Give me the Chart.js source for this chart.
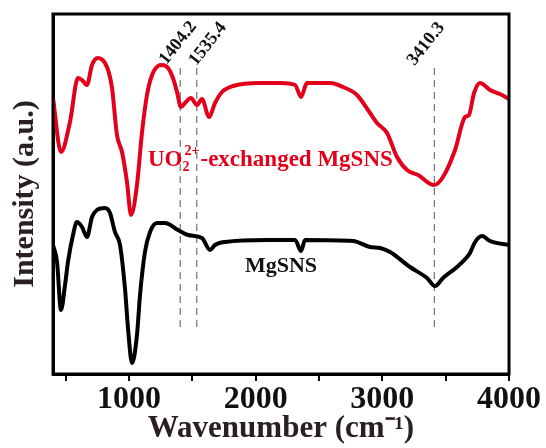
<!DOCTYPE html>
<html>
<head>
<meta charset="utf-8">
<script src="https://cdn.jsdelivr.net/npm/chart.js@4.4.1/dist/chart.umd.min.js"></script>
<style>
    html, body { margin: 0; padding: 0; background: #fff; }
    #wrap { width: 546px; height: 448px; }
</style>
</head>
<body>
<div id="wrap"><canvas id="ftirChart" width="546" height="448"></canvas></div>
<script>
// UO2(2+)-exchanged MgSNS spectrum (wavenumber / relative intensity)
const redX = [400, 463, 534, 597, 629, 668, 708, 755, 826, 866,
    905, 945, 984, 1016, 1063, 1103, 1142, 1182, 1229, 1260,
    1308, 1347, 1379, 1410, 1442, 1489, 1537, 1576, 1632, 1679,
    1734, 1821, 2034, 2192, 2311, 2358, 2405, 2587, 2690, 2800,
    2903, 2958, 3037, 3116, 3195, 3282, 3408, 3479, 3574, 3653,
    3684, 3724, 3771, 3850, 3929, 4000];
const redY = [276, 222, 252, 296, 294, 289, 309, 316, 307, 286,
    239, 222, 192, 159, 189, 242, 279, 299, 308, 309,
    306, 296, 282, 267, 271, 276, 269, 275, 257, 271,
    282, 288, 291, 291, 289, 277, 291, 291, 287, 279,
    261, 251, 241, 217, 204, 199, 189, 197, 224, 257,
    259, 281, 291, 284, 280, 275];

// MgSNS spectrum
const blackX = [400, 432, 463, 495, 518, 558, 589, 629, 668, 708,
    747, 810, 850, 889, 929, 968, 992, 1024, 1063, 1087,
    1126, 1166, 1221, 1284, 1387, 1466, 1576, 1640, 1679, 1758,
    2090, 2311, 2358, 2390, 2769, 2903, 2982, 3061, 3218, 3353,
    3416, 3479, 3590, 3669, 3692, 3732, 3787, 3850, 4000];
const blackY = [129, 112, 64, 89, 112, 139, 152, 147, 137, 157,
    164, 166, 161, 142, 129, 86, 46, 11, 39, 79,
    122, 142, 151, 151, 144, 139, 136, 124, 129, 132,
    134, 134, 123, 134, 133, 127, 126, 122, 107, 96,
    88, 96, 107, 117, 121, 132, 138, 133, 129];

// marked peaks
const peakPositions = [1404.2, 1535.4, 3410.3];
const peakLabels = ['1404.2', '1535.4', '3410.3'];
const peakLabelX = [1387, 1623, 3345];
const peakLabelY = [331, 330, 330];
const dashTop = 307;
const dashBottom = 47;

const xTickValues = [500, 1000, 1500, 2000, 2500, 3000, 3500, 4000];

const SERIF = "'Liberation Serif', 'Times New Roman', serif";
const RED = '#e3001b';

function toPoints(xs, ys) {
    return xs.map((v, i) => ({ x: v, y: ys[i] }));
}

const dashSets = peakPositions.map(p => ({
    data: [{ x: p, y: dashBottom }, { x: p, y: dashTop }],
    borderColor: '#555',
    borderWidth: 1,
    borderDash: [7, 5],
    pointRadius: 0,
    order: 3
}));

// frame and text annotations
const annotatePlugin = {
    id: 'annotate',
    afterDatasetsDraw(chart) {
        const { ctx, chartArea: a, scales: { x, y } } = chart;
        ctx.save();
        ctx.strokeStyle = '#000';
        ctx.lineWidth = 3;
        ctx.strokeRect(a.left, a.top, a.right - a.left, a.bottom - a.top);

        // rotated peak labels
        ctx.fillStyle = '#111';
        ctx.font = 'bold 18px ' + SERIF;
        ctx.textAlign = 'center';
        ctx.textBaseline = 'middle';
        peakLabels.forEach((t, i) => {
            ctx.save();
            ctx.translate(x.getPixelForValue(peakLabelX[i]), y.getPixelForValue(peakLabelY[i]));
            ctx.rotate(-52 * Math.PI / 180);
            ctx.fillText(t, 0, 0);
            ctx.restore();
        });

        // series labels
        ctx.textAlign = 'left';
        ctx.textBaseline = 'alphabetic';
        let px = x.getPixelForValue(1150);
        const py = y.getPixelForValue(208);
        ctx.fillStyle = RED;
        ctx.font = 'bold 23px ' + SERIF;
        ctx.fillText('UO', px, py);
        px += ctx.measureText('UO').width;
        ctx.font = 'bold 14px ' + SERIF;
        ctx.fillText('2', px, py + 5);
        ctx.fillText('2+', px + 2, py - 11);
        px += ctx.measureText('2+').width + 3;
        ctx.font = 'bold 23px ' + SERIF;
        ctx.fillText('-exchanged MgSNS', px, py);

        ctx.fillStyle = '#111';
        ctx.font = 'bold 22px ' + SERIF;
        ctx.textAlign = 'center';
        ctx.fillText('MgSNS', x.getPixelForValue(2200), y.getPixelForValue(102));
        ctx.restore();
    }
};

const ctx = document.getElementById('ftirChart').getContext('2d');
new Chart(ctx, {
    type: 'line',
    data: {
        datasets: [
            {
                label: 'UO2-exchanged MgSNS',
                data: toPoints(redX, redY),
                borderColor: RED,
                borderWidth: 4,
                pointRadius: 0,
                cubicInterpolationMode: 'monotone',
                order: 1
            },
            {
                label: 'MgSNS',
                data: toPoints(blackX, blackY),
                borderColor: '#000',
                borderWidth: 4,
                pointRadius: 0,
                cubicInterpolationMode: 'monotone',
                order: 2
            },
            ...dashSets
        ]
    },
    options: {
        responsive: false,
        animation: false,
        devicePixelRatio: 1,
        layout: { padding: { top: 14, right: 37, left: 0, bottom: 0 } },
        plugins: {
            legend: { display: false },
            tooltip: { enabled: false }
        },
        scales: {
            x: {
                type: 'linear',
                min: 400,
                max: 4000,
                afterBuildTicks: scale => {
                    scale.ticks = xTickValues.map(v => ({ value: v }));
                },
                afterFit: scale => { scale.height = 74; },
                ticks: {
                    autoSkip: false,
                    maxRotation: 0,
                    color: '#111',
                    padding: 0,
                    font: { family: SERIF, size: 32, weight: 'bold' },
                    callback: v => (v % 1000 === 0 ? String(v) : '')
                },
                grid: {
                    drawOnChartArea: false,
                    color: '#000',
                    lineWidth: 2,
                    tickLength: 7
                },
                border: { color: '#000', width: 3 },
                title: {
                    display: true,
                    text: 'Wavenumber (cm\u207B\u00B9)',
                    color: '#2a2020',
                    font: { family: SERIF, size: 31, weight: 'bold' },
                    padding: { top: 0, bottom: 0 }
                }
            },
            y: {
                min: 0,
                max: 360,
                afterFit: scale => { scale.width = 53; },
                ticks: { display: false },
                grid: { display: false },
                border: { color: '#000', width: 3 },
                title: {
                    display: true,
                    text: 'Intensity (a.u.)',
                    color: '#2a2020',
                    font: { family: SERIF, size: 30, weight: 'bold' },
                    padding: { top: 7, bottom: 0 }
                }
            }
        }
    },
    plugins: [annotatePlugin]
});
</script>
</body>
</html>
